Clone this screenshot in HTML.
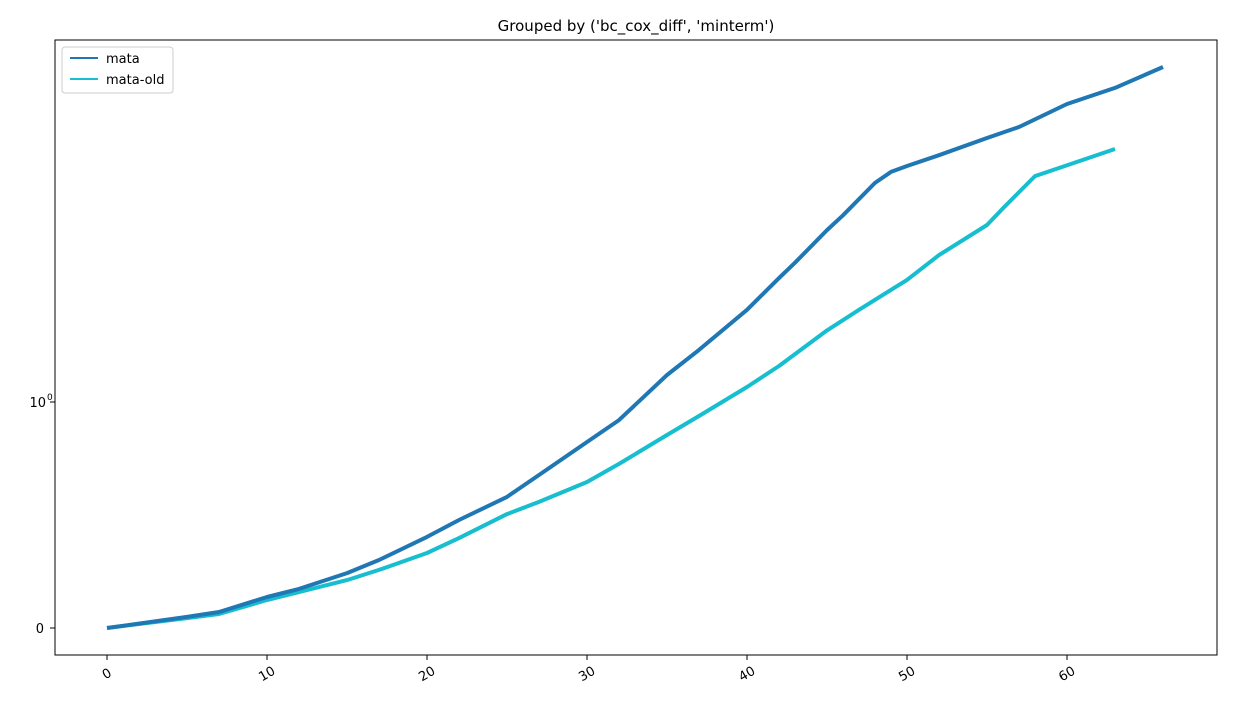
<!DOCTYPE html>
<html><head><meta charset="utf-8"><style>
body{margin:0;background:#fff;font-family:"Liberation Sans","DejaVu Sans",sans-serif}
svg text{font-family:"DejaVu Sans","Liberation Sans",sans-serif}
</style></head><body>
<svg id="chart" width="1237" height="706" xmlns="http://www.w3.org/2000/svg">
<rect width="1237" height="706" fill="#fff"/>
<text x="636" y="31" font-size="15" text-anchor="middle">Grouped by ('bc_cox_diff', 'minterm')</text>
<rect x="55" y="40" width="1162" height="615" fill="none" stroke="#000" stroke-width="1"/>
<g id="xticks"></g><g id="yticks"></g><g id="lines"></g>
<g>
<rect x="62" y="47" width="111" height="46" rx="3" fill="#fff" stroke="#ccc"/>
<line x1="70" y1="58" x2="98" y2="58" stroke="#1f77b4" stroke-width="2"/>
<text x="106" y="63" font-size="13">mata</text>
<line x1="70" y1="79" x2="98" y2="79" stroke="#17becf" stroke-width="2"/>
<text x="106" y="84" font-size="13">mata-old</text>
</g>
</svg>
<script>
const mataX=[0,5,7,10,12,15,17,20,22,25,27,30,32,35,37,40,42,43,45,46,48,49,50,52,55,57,60,63,66];
const mataY=[0,0.049,0.071,0.137,0.173,0.243,0.301,0.403,0.478,0.58,0.677,0.823,0.92,1.168,1.35,1.70,2.04,2.23,2.69,2.93,3.53,3.76,3.89,4.14,4.57,4.87,5.56,6.10,6.88];
const oldX=[0,5,7,10,12,15,17,20,22,25,27,30,32,35,37,40,42,45,47,50,52,55,56,58,63];
const oldY=[0,0.044,0.062,0.124,0.159,0.212,0.257,0.332,0.398,0.504,0.558,0.646,0.726,0.854,0.938,1.09,1.23,1.51,1.70,2.02,2.33,2.77,3.05,3.67,4.29];
const xTicks=[0,10,20,30,40,50,60];
const NS="http://www.w3.org/2000/svg";
function sx(v){return 107+v*16;}
function sy(v){return v<=1?628-v*226:402-400*Math.log10(v);}
function mk(t,a,p){const e=document.createElementNS(NS,t);for(const k in a)e.setAttribute(k,a[k]);p.appendChild(e);return e;}
const xg=document.getElementById('xticks');
xTicks.forEach(t=>{
 const l=mk('line',{x1:sx(t),x2:sx(t),y1:655,y2:660,stroke:'#000'},xg);
 
 
 const tx=mk('text',{x:sx(t),y:678,'font-size':13,'text-anchor':'middle',transform:`rotate(-30 ${sx(t)} 674)`},xg);
 tx.textContent=t;
 
 
});
const yg=document.getElementById('yticks');
[[0,'0'],[1,'10']].forEach(([v,s])=>{
 const y=sy(v);
 const l=mk('line',{x1:50,x2:55,y1:y,y2:y,stroke:'#000'},yg);
 
 
 const tx=mk('text',{x:s==='0'?44:46,y:y+5,'font-size':13,'text-anchor':'end'},yg);
 tx.textContent=s;
 
 
 if(s==='10'){const sup=mk('text',{x:47,y:y-2,'font-size':9},yg);sup.textContent='0';
 
 }
});
const lg=document.getElementById('lines');
function line(xs,ys,c,name){
 const d=xs.map((x,i)=>(i?'L':'M')+sx(x).toFixed(1)+','+sy(ys[i]).toFixed(1)).join('');
 const p=mk('path',{d:d,fill:'none',stroke:c,'stroke-width':4,'stroke-linejoin':'round'},lg);
 
 
}
line(oldX,oldY,'#17becf','line-mata-old');
line(mataX,mataY,'#1f77b4','line-mata');
</script>
</body></html>
